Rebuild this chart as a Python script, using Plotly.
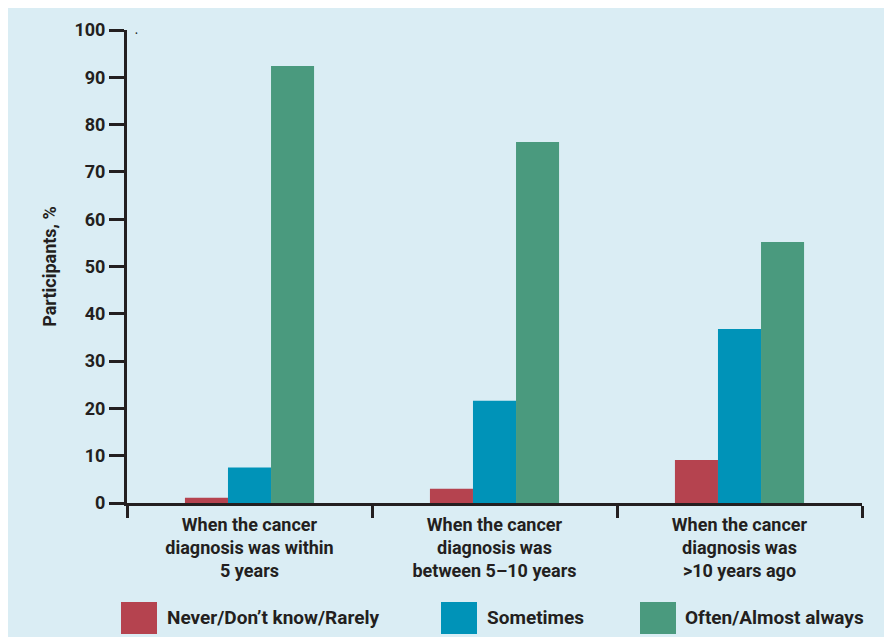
import plotly.graph_objects as go

categories = [
    "When the cancer<br>diagnosis was within<br>5 years",
    "When the cancer<br>diagnosis was<br>between 5–10 years",
    "When the cancer<br>diagnosis was<br>>10 years ago",
]
series_names = ["Never/Don’t know/Rarely", "Sometimes", "Often/Almost always"]
never_vals = [1.1, 3.0, 9.1]
sometimes_vals = [7.5, 21.6, 36.8]
often_vals = [92.4, 76.3, 55.2]
y_ticks = [0, 10, 20, 30, 40, 50, 60, 70, 80, 90, 100]

colors = ["#b5434f", "#0093b8", "#4a9a7e"]
BG = "#daedf4"
TXT = "#231f20"
FONT = "Roboto"

W, H = 892, 637
OFF = 8  # page body margin in the screenshot
ML, MR, MT, MB = 119, 38, 22, 142
PW, PH = W - ML - MR, H - MT - MB


def px_x(px):
    return (px - OFF - ML) / PW


def px_y(py):
    return 1 - (py - OFF - MT) / PH


fig = go.Figure()
for name, vals, col in zip(series_names, [never_vals, sometimes_vals, often_vals], colors):
    fig.add_trace(go.Bar(x=categories, y=vals, name=name, marker=dict(color=col, line=dict(width=0)),
                         showlegend=False))

shapes = []
annotations = []
legend_sq_x = [121, 441, 640]
legend_txt_x = [165, 485, 683]
for name, col, sx, tx in zip(series_names, colors, legend_sq_x, legend_txt_x):
    shapes.append(dict(type="rect", xref="paper", yref="paper", x0=px_x(sx), x1=px_x(sx + 36),
                       y0=px_y(634), y1=px_y(602), fillcolor=col, line=dict(width=0)))
    annotations.append(dict(text=name, xref="paper", yref="paper", x=px_x(tx), y=px_y(617),
                            xanchor="left", yanchor="middle", showarrow=False,
                            font=dict(family=FONT, size=19, color=TXT, weight="bold")))
annotations.append(dict(text=".", xref="paper", yref="paper", x=px_x(136), y=px_y(38), showarrow=False,
                        xanchor="center", yanchor="bottom", font=dict(family=FONT, size=10, color=TXT)))

fig.update_layout(
    width=W, height=H,
    margin=dict(l=ML, r=MR, t=MT, b=MB, pad=0),
    paper_bgcolor=BG,
    plot_bgcolor=BG,
    barmode="group", bargap=0.473, bargroupgap=0,
    font=dict(family=FONT, color=TXT, size=18, weight="bold"),
    shapes=shapes,
    annotations=annotations,
    xaxis=dict(
        range=[-0.5, 2.5], showline=True, linewidth=3, linecolor=TXT,
        ticks="outside", tickson="boundaries", ticklen=12, tickwidth=2.5, tickcolor=TXT,
        showgrid=False, zeroline=False,
        tickfont=dict(family=FONT, size=18, color=TXT, weight="bold"),
        ticklabelstandoff=3,
    ),
    yaxis=dict(
        range=[0, 100], showline=True, linewidth=3, linecolor=TXT,
        ticks="outside", ticklen=15, tickwidth=2.5, tickcolor=TXT,
        tickvals=y_ticks, showgrid=False, zeroline=False,
        tickfont=dict(family=FONT, size=18, color=TXT, weight="bold"),
        ticklabelstandoff=0,
        title=dict(text="Participants, %", standoff=14,
                   font=dict(family=FONT, size=18, color=TXT, weight="bold")),
    ),
)

fig.write_html("out.html")
